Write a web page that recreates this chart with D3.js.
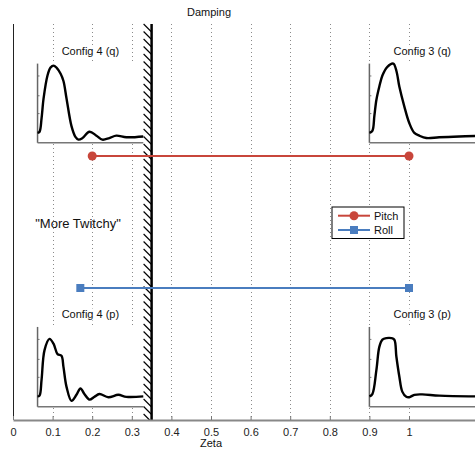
<!DOCTYPE html>
<html>
<head>
<meta charset="utf-8">
<script src="https://cdn.jsdelivr.net/npm/d3@7"></script>
<style>
  body { margin: 0; background: #fff; }
  svg { display: block; font-family: "Liberation Sans", Arial, sans-serif; }
</style>
</head>
<body>
<div class="chart"></div>
<script>
// ---- data ----
const zetaTicks = [0, 0.1, 0.2, 0.3, 0.4, 0.5, 0.6, 0.7, 0.8, 0.9, 1];
const gridTicks = [0.1, 0.2, 0.3, 0.4, 0.5, 0.6, 0.7, 0.8, 0.9, 1];
const seriesNames = ['Pitch', 'Roll'];
const pitchZeta = [0.2, 1.0];
const rollZeta = [0.17, 1.0];
const seriesLevel = [2, 1];
const wallZeta = 0.35;

// step responses (time s, normalized rate)
const config4qT = [0, 0.19, 0.38, 0.57, 0.94, 1.23, 1.51, 1.79, 2.17, 2.45, 2.74, 3.21, 3.58, 3.87, 4.25, 4.91, 5.57, 6.13, 6.79, 7.45, 8.4, 10];
const config4qV = [0.125, 0.14, 0.31, 0.56, 0.85, 0.95, 0.975, 0.95, 0.875, 0.78, 0.56, 0.21, 0.075, 0.04, 0.06, 0.14, 0.09, 0.04, 0.06, 0.09, 0.07, 0.08];
const config3qT = [0, 0.28, 0.47, 0.66, 0.94, 1.23, 1.7, 2.26, 2.55, 2.83, 3.3, 3.77, 4.25, 4.72, 5.38, 6.6, 8.49, 10];
const config3qV = [0.125, 0.15, 0.34, 0.54, 0.71, 0.85, 0.96, 1.0, 0.91, 0.71, 0.46, 0.25, 0.125, 0.09, 0.06, 0.07, 0.08, 0.085];
const config4pT = [0, 0.19, 0.38, 0.66, 1.13, 1.51, 1.89, 2.26, 2.45, 2.74, 3.21, 3.68, 4.06, 4.43, 4.91, 5.38, 5.85, 6.7, 7.64, 8.4, 10];
const config4pV = [0.13, 0.14, 0.34, 0.71, 0.85, 0.79, 0.66, 0.64, 0.5, 0.25, 0.075, 0.15, 0.23, 0.16, 0.09, 0.125, 0.16, 0.12, 0.15, 0.125, 0.13];
const config3pT = [0, 0.28, 0.66, 0.94, 1.23, 1.6, 2.08, 2.36, 2.55, 2.83, 3.11, 3.49, 3.77, 4.25, 5.0, 6.6, 10];
const config3pV = [0.13, 0.16, 0.46, 0.75, 0.84, 0.86, 0.86, 0.84, 0.63, 0.38, 0.19, 0.125, 0.12, 0.15, 0.155, 0.14, 0.13];

const zip = (t, v) => t.map((d, i) => [d, v[i]]);

// inset placement, in zeta / level units
const insets = [
  { label: 'Config 4 (q)', pts: zip(config4qT, config4qV), z: [0.062, 0.329], lv: [2.1, 2.7] },
  { label: 'Config 3 (q)', pts: zip(config3qT, config3qV), z: [0.9, 1.167], lv: [2.1, 2.7] },
  { label: 'Config 4 (p)', pts: zip(config4pT, config4pV), z: [0.062, 0.329], lv: [0.1, 0.705] },
  { label: 'Config 3 (p)', pts: zip(config3pT, config3pV), z: [0.9, 1.167], lv: [0.1, 0.705] }
];

const colors = ['#c8463b', '#4a7dbf'];

// ---- layout ----
const W = 475, H = 449;
const margin = { left: 13, top: 24, bottom: 29 };
const plotBottom = H - margin.bottom;

const svg = d3.select('.chart').append('svg')
  .attr('width', W)
  .attr('height', H);

const xScale = d3.scaleLinear()
  .domain([0, 1.2])
  .range([margin.left, margin.left + 1.2 * 396]);

const yScale = d3.scaleLinear()
  .domain([0, 3])
  .range([plotBottom, margin.top]);

// grid
svg.append('g').selectAll('line')
  .data(gridTicks)
  .enter().append('line')
  .attr('x1', d => Math.round(xScale(d)) + 0.5)
  .attr('x2', d => Math.round(xScale(d)) + 0.5)
  .attr('y1', margin.top)
  .attr('y2', plotBottom)
  .attr('stroke', '#8a8a8a')
  .attr('stroke-width', 1)
  .attr('stroke-dasharray', '1,3');

// insets
const line = (ix, iy) => d3.line()
  .x(d => ix(d[0]))
  .y(d => iy(d[1]))
  .curve(d3.curveCatmullRom.alpha(0.5));

insets.forEach(inset => {
  const x0 = xScale(inset.z[0]), x1 = xScale(inset.z[1]);
  const yB = yScale(inset.lv[0]), yT = yScale(inset.lv[1]);
  const ix = d3.scaleLinear().domain([0, 10]).range([x0, x1]);
  const iy = d3.scaleLinear().domain([0, 1]).range([yB, yT]);
  const g = svg.append('g');

  g.append('rect')
    .attr('x', x0)
    .attr('y', yT)
    .attr('width', x1 - x0)
    .attr('height', yB - yT)
    .attr('fill', '#fff');

  g.append('g')
    .attr('transform', `translate(${x0}, 0)`)
    .call(d3.axisRight(iy).tickValues([0.375, 0.6, 0.85]).tickSize(2).tickFormat(''))
    .call(a => a.select('.domain').remove())
    .call(a => a.selectAll('text').remove())
    .selectAll('line').attr('stroke', '#777');

  g.append('line')
    .attr('x1', x0).attr('x2', x0)
    .attr('y1', yT).attr('y2', yB)
    .attr('stroke', '#666').attr('stroke-width', 1.5);
  g.append('line')
    .attr('x1', x0).attr('x2', x1)
    .attr('y1', yB).attr('y2', yB)
    .attr('stroke', '#777').attr('stroke-width', 1.5);

  g.append('path')
    .datum(inset.pts)
    .attr('d', line(ix, iy))
    .attr('fill', 'none')
    .attr('stroke', '#000')
    .attr('stroke-width', 2.4)
    .attr('stroke-linejoin', 'round');

  const labelBg = g.append('rect').attr('fill', '#fff');
  const t = g.append('text')
    .attr('x', (x0 + x1) / 2)
    .attr('y', yT - 8.5)
    .attr('text-anchor', 'middle')
    .attr('font-size', '11px')
    .attr('fill', '#111')
    .text(inset.label);
  const bb = t.node().getBBox();
  labelBg
    .attr('x', bb.x - 2)
    .attr('y', bb.y)
    .attr('width', bb.width + 4)
    .attr('height', bb.height);
});

// wall at the stability limit
const wallX = xScale(wallZeta);
const hatch = d3.range(margin.top, plotBottom, 7.5);
svg.append('g').selectAll('line')
  .data(hatch)
  .enter().append('line')
  .attr('x1', wallX - 8)
  .attr('y1', d => d)
  .attr('x2', d => wallX - 8 + Math.min(8, plotBottom - d))
  .attr('y2', d => Math.min(d + 8, plotBottom))
  .attr('stroke', '#000')
  .attr('stroke-width', 1.2);
svg.append('line')
  .attr('x1', wallX).attr('x2', wallX)
  .attr('y1', margin.top).attr('y2', plotBottom)
  .attr('stroke', '#000')
  .attr('stroke-width', 2.5);

// series
const seriesZeta = [pitchZeta, rollZeta];
seriesNames.forEach((name, i) => {
  const g = svg.append('g');
  const yy = yScale(seriesLevel[i]);
  g.append('line')
    .attr('x1', xScale(seriesZeta[i][0]))
    .attr('x2', xScale(seriesZeta[i][1]))
    .attr('y1', yy).attr('y2', yy)
    .attr('stroke', colors[i])
    .attr('stroke-width', 2);
  seriesZeta[i].forEach(z => {
    if (i === 0) {
      g.append('circle')
        .attr('cx', xScale(z)).attr('cy', yy).attr('r', 4.5)
        .attr('fill', colors[i]);
    } else {
      g.append('rect')
        .attr('x', xScale(z) - 4).attr('y', yy - 4)
        .attr('width', 8).attr('height', 8)
        .attr('fill', colors[i]);
    }
  });
});

// annotation
svg.append('text')
  .attr('x', 78)
  .attr('y', 227.5)
  .attr('text-anchor', 'middle')
  .attr('font-size', '13px')
  .attr('fill', '#111')
  .text('"More Twitchy"');

// legend
const legend = svg.append('g').attr('transform', 'translate(332, 207)');
legend.append('rect')
  .attr('x', 0).attr('y', 0)
  .attr('width', 72).attr('height', 31.5)
  .attr('fill', '#fff')
  .attr('stroke', '#000')
  .attr('stroke-width', 1);
seriesNames.forEach((name, i) => {
  const yy = 8.7 + i * 14.3;
  legend.append('line')
    .attr('x1', 6).attr('x2', 38)
    .attr('y1', yy).attr('y2', yy)
    .attr('stroke', colors[i]).attr('stroke-width', 2);
  if (i === 0) {
    legend.append('circle').attr('cx', 22).attr('cy', yy).attr('r', 4.5).attr('fill', colors[i]);
  } else {
    legend.append('rect').attr('x', 18).attr('y', yy - 4).attr('width', 8).attr('height', 8).attr('fill', colors[i]);
  }
  legend.append('text')
    .attr('x', 42).attr('y', yy + 4)
    .attr('font-size', '11px')
    .attr('fill', '#111')
    .text(name);
});

// axes
svg.append('line')
  .attr('x1', margin.left + 0.5).attr('x2', margin.left + 0.5)
  .attr('y1', margin.top).attr('y2', plotBottom)
  .attr('stroke', '#222').attr('stroke-width', 1);

const xAxis = d3.axisBottom(xScale)
  .tickValues(zetaTicks)
  .tickFormat(d3.format('~g'))
  .tickSize(-4)
  .tickSizeOuter(0)
  .tickPadding(8);
const xAxisG = svg.append('g')
  .attr('transform', `translate(0, ${plotBottom})`)
  .call(xAxis);
xAxisG.select('.domain').attr('stroke', '#888').attr('stroke-width', 2);
xAxisG.selectAll('.tick line').attr('stroke', '#777');
xAxisG.selectAll('.tick text')
  .attr('font-size', '11px')
  .attr('font-family', '"Liberation Sans", Arial, sans-serif')
  .attr('fill', '#222');

svg.append('text')
  .attr('x', 211).attr('y', 447)
  .attr('text-anchor', 'middle')
  .attr('font-size', '11px')
  .attr('fill', '#111')
  .text('Zeta');

svg.append('text')
  .attr('x', 209).attr('y', 15.5)
  .attr('text-anchor', 'middle')
  .attr('font-size', '11px')
  .attr('fill', '#111')
  .text('Damping');
</script>
</body>
</html>
